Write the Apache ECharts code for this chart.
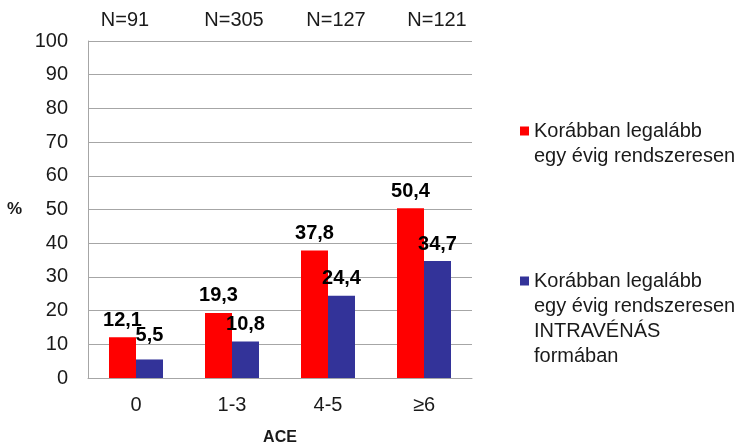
<!DOCTYPE html>
<html>
<head>
<meta charset="utf-8">
<script src="https://cdn.jsdelivr.net/npm/echarts@6/dist/echarts.min.js"></script>
<style>
  html, body { margin: 0; padding: 0; background: #fff; }
  #chart { width: 750px; height: 444px; }
</style>
</head>
<body>
<div id="chart"></div>
<script>
// ACE categories and sample sizes
const categories = ['0', '1-3', '4-5', '≥6'];
const sampleSizes = ['N=91', 'N=305', 'N=127', 'N=121'];
// Percentages for each group
const regularUse = [12.1, 19.3, 37.8, 50.4];
const intravenousUse = [5.5, 10.8, 24.4, 34.7];
const yTicks = [0, 10, 20, 30, 40, 50, 60, 70, 80, 90, 100];

const seriesNames = [
  'Korábban legalább\negy évig rendszeresen',
  'Korábban legalább\negy évig rendszeresen\nINTRAVÉNÁS\nformában'
];

// Small horizontal nudges for the N labels above each group
const nShift = [-11, 2, 8, 13];

const FONT = '"Liberation Sans", Arial, sans-serif';
const TEXT = '#1a1a1a';
const fmt = v => v.toFixed(1).replace('.', ',');

const chart = echarts.init(document.getElementById('chart'), null, { renderer: 'canvas' });

// Each legend entry keeps its square level with the first text line:
// blank lines are prepended so the vertically centred block puts line 1 at the icon.
const lineH = 25;
function legendFor(idx, iconCenterY) {
  const lines = seriesNames[idx].split('\n').length;
  return {
    show: true,
    data: [seriesNames[idx]],
    left: 520,
    top: iconCenterY - (lines - 1) * lineH - lineH / 2,
    padding: 0,
    orient: 'vertical',
    icon: 'rect',
    itemWidth: 9,
    itemHeight: 9,
    itemGap: 0,
    selectedMode: false,
    formatter: name => '\n'.repeat(lines - 1) + name,
    textStyle: {
      fontFamily: FONT,
      fontSize: 20,
      color: TEXT,
      lineHeight: lineH
    }
  };
}

const labelStyle = {
  show: true,
  position: 'top',
  distance: 7,
  formatter: p => fmt(p.value),
  fontFamily: FONT,
  fontSize: 20,
  fontWeight: 'bold',
  color: '#000'
};

chart.setOption({
  animation: false,
  backgroundColor: '#ffffff',
  grid: { left: 88, right: 278, top: 41, bottom: 66, outerBoundsMode: 'none', containLabel: false },
  legend: [legendFor(0, 131), legendFor(1, 281)],
  xAxis: [
    {
      type: 'category',
      data: categories,
      position: 'bottom',
      name: 'ACE',
      nameLocation: 'middle',
      nameGap: 52,
      nameTextStyle: { fontFamily: FONT, fontSize: 16, fontWeight: 'bold', color: TEXT },
      axisLine: { show: true, lineStyle: { color: '#a6a6a6', width: 1 } },
      axisTick: { show: false },
      axisLabel: { fontFamily: FONT, fontSize: 20, color: TEXT, margin: 17 }
    },
    {
      type: 'category',
      data: sampleSizes.map((s, i) => ({
        value: s,
        textStyle: {
          padding: nShift[i] < 0 ? [0, -2 * nShift[i], 0, 0] : [0, 0, 0, 2 * nShift[i]]
        }
      })),
      position: 'top',
      axisLine: { show: false },
      axisTick: { show: false },
      axisLabel: { fontFamily: FONT, fontSize: 20, color: TEXT, margin: 11 }
    }
  ],
  yAxis: {
    type: 'value',
    min: yTicks[0],
    max: yTicks[yTicks.length - 1],
    interval: 10,
    name: '%',
    nameLocation: 'middle',
    nameRotate: 0,
    nameGap: 66,
    nameTextStyle: { fontFamily: FONT, fontSize: 17, fontWeight: 'bold', color: TEXT, padding: [6, 0, 0, 0] },
    axisLine: { show: true, lineStyle: { color: '#a6a6a6', width: 1 } },
    axisTick: { show: false },
    axisLabel: { fontFamily: FONT, fontSize: 20, color: TEXT, margin: 20 },
    splitLine: { show: true, lineStyle: { color: '#a6a6a6', width: 1 } }
  },
  series: [
    {
      name: seriesNames[0],
      type: 'bar',
      data: regularUse,
      barWidth: 27,
      barGap: '0%',
      itemStyle: { color: '#ff0000' },
      label: labelStyle
    },
    {
      name: seriesNames[1],
      type: 'bar',
      // the first small bar's label sits a little higher, clear of its neighbour
      data: intravenousUse.map((v, i) => i === 0 ? { value: v, label: { offset: [0, -7] } } : v),
      barWidth: 27,
      barGap: '0%',
      itemStyle: { color: '#333399' },
      label: labelStyle
    }
  ]
});
</script>
</body>
</html>
